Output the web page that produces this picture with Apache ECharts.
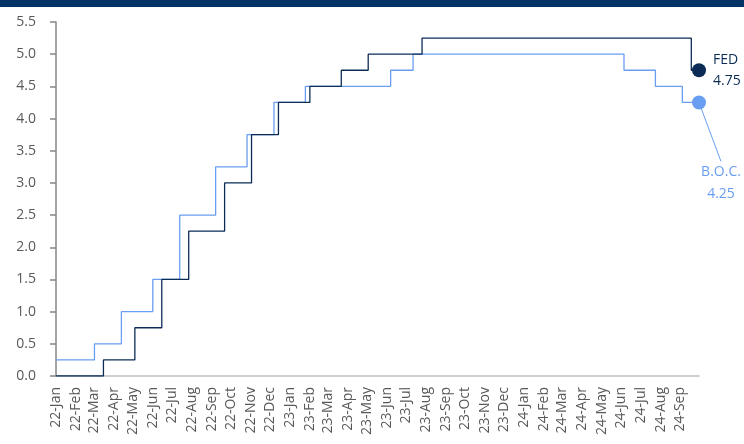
<!DOCTYPE html>
<html>
<head>
<meta charset="utf-8">
<script src="https://cdn.jsdelivr.net/npm/echarts@6/dist/echarts.min.js"></script>
<style>
  html, body { margin: 0; padding: 0; background: #ffffff; }
  #chart { width: 744px; height: 444px; }
</style>
</head>
<body>
<div id="chart"></div>
<script>
// Policy rates, change points (date of decision, new rate in %)
const fedDates = ['2022-01-01', '2022-03-16', '2022-05-04', '2022-06-15', '2022-07-27', '2022-09-21',
  '2022-11-02', '2022-12-14', '2023-02-01', '2023-03-22', '2023-05-03', '2023-07-26', '2024-09-18', '2024-09-30'];
const fedRates = [0, 0.25, 0.75, 1.5, 2.25, 3.0, 3.75, 4.25, 4.5, 4.75, 5.0, 5.25, 4.75, 4.75];

const bocDates = ['2022-01-01', '2022-03-02', '2022-04-13', '2022-06-01', '2022-07-13', '2022-09-07',
  '2022-10-26', '2022-12-07', '2023-01-25', '2023-06-07', '2023-07-12', '2024-06-05', '2024-07-24',
  '2024-09-04', '2024-09-30'];
const bocRates = [0.25, 0.5, 1.0, 1.5, 2.5, 3.25, 3.75, 4.25, 4.5, 4.75, 5.0, 4.75, 4.5, 4.25, 4.25];

// Month tick labels along the date axis
const monthLabels = ['22-Jan', '22-Feb', '22-Mar', '22-Apr', '22-May', '22-Jun', '22-Jul', '22-Aug',
  '22-Sep', '22-Oct', '22-Nov', '22-Dec', '23-Jan', '23-Feb', '23-Mar', '23-Apr', '23-May', '23-Jun',
  '23-Jul', '23-Aug', '23-Sep', '23-Oct', '23-Nov', '23-Dec', '24-Jan', '24-Feb', '24-Mar', '24-Apr',
  '24-May', '24-Jun', '24-Jul', '24-Aug', '24-Sep'];

const seriesNames = ['FED', 'B.O.C.'];
const FED_COLOR = '#0c2c56';
const BOC_COLOR = '#6a9ef2';

const MONTHS = ['Jan', 'Feb', 'Mar', 'Apr', 'May', 'Jun', 'Jul', 'Aug', 'Sep', 'Oct', 'Nov', 'Dec'];
function ts(s) {
  const p = s.split('-').map(Number);
  return new Date(p[0], p[1] - 1, p[2]).getTime();
}
function monthStart(label) {
  const p = label.split('-');
  return new Date(2000 + Number(p[0]), MONTHS.indexOf(p[1]), 1).getTime();
}
const tickValues = monthLabels.map(monthStart);
const labelByTime = {};
monthLabels.forEach((l, i) => { labelByTime[tickValues[i]] = l; });

const fedData = fedDates.map((d, i) => [ts(d), fedRates[i]]);
const bocData = bocDates.map((d, i) => [ts(d), bocRates[i]]);
const fedLast = fedData[fedData.length - 1];
const bocLast = bocData[bocData.length - 1];

const chart = echarts.init(document.getElementById('chart'), null, { renderer: 'canvas' });
chart.setOption({
  animation: false,
  backgroundColor: '#ffffff',
  textStyle: { fontFamily: 'Open Sans' },
  graphic: [{
    type: 'rect', left: 0, top: 0, z: 10,
    shape: { width: 744, height: 7 },
    style: { fill: '#013465' }
  }],
  grid: { left: 56, right: 45, top: 22, bottom: 68 },
  xAxis: {
    type: 'value',
    min: ts(fedDates[0]),
    max: ts(fedDates[fedDates.length - 1]),
    axisLine: { show: true, lineStyle: { color: '#bfbfbf', width: 1.5 } },
    axisTick: { show: false },
    splitLine: { show: false },
    axisLabel: {
      customValues: tickValues,
      showMinLabel: true,
      showMaxLabel: true,
      rotate: 90,
      margin: 11,
      fontSize: 14,
      color: '#595959',
      fontFamily: 'Open Sans',
      hideOverlap: false,
      formatter: v => labelByTime[v] || ''
    }
  },
  yAxis: {
    type: 'value',
    min: 0,
    max: 5.5,
    interval: 0.5,
    axisLine: { show: true, lineStyle: { color: '#868686', width: 1.5 } },
    axisTick: { show: true, inside: false, length: 6, lineStyle: { color: '#868686', width: 1.5 } },
    splitLine: { show: false },
    axisLabel: {
      margin: 20,
      fontSize: 14,
      color: '#595959',
      fontFamily: 'Open Sans',
      formatter: v => v.toFixed(1)
    }
  },
  series: [
    {
      name: seriesNames[1],
      type: 'line',
      step: 'end',
      data: bocData,
      showSymbol: false,
      lineStyle: { color: BOC_COLOR, width: 1.3 },
      z: 2
    },
    {
      name: seriesNames[0],
      type: 'line',
      step: 'end',
      data: fedData,
      showSymbol: false,
      lineStyle: { color: FED_COLOR, width: 1.3 },
      z: 3
    },
    {
      name: seriesNames[0] + ' end',
      type: 'scatter',
      data: [fedLast],
      symbolSize: 14,
      clip: false,
      itemStyle: { color: FED_COLOR, opacity: 1 },
      z: 5,
      label: {
        show: true,
        position: 'right',
        distance: 7,
        align: 'left',
        color: FED_COLOR,
        fontSize: 14,
        lineHeight: 21,
        fontFamily: 'Open Sans',
        formatter: p => seriesNames[0] + '\n' + p.value[1].toFixed(2)
      }
    },
    {
      name: seriesNames[1] + ' end',
      type: 'scatter',
      data: [bocLast],
      symbolSize: 14,
      clip: false,
      itemStyle: { color: BOC_COLOR, opacity: 1 },
      z: 4,
      label: {
        show: true,
        position: 'bottom',
        distance: 5,
        align: 'center',
        color: BOC_COLOR,
        fontSize: 14,
        lineHeight: 22,
        fontFamily: 'Open Sans',
        formatter: p => seriesNames[1] + '\n' + p.value[1].toFixed(2)
      },
      labelLayout: { dx: 22, dy: 47 },
      labelLine: { show: true, lineStyle: { color: BOC_COLOR, width: 1 } }
    }
  ]
});
</script>
</body>
</html>
